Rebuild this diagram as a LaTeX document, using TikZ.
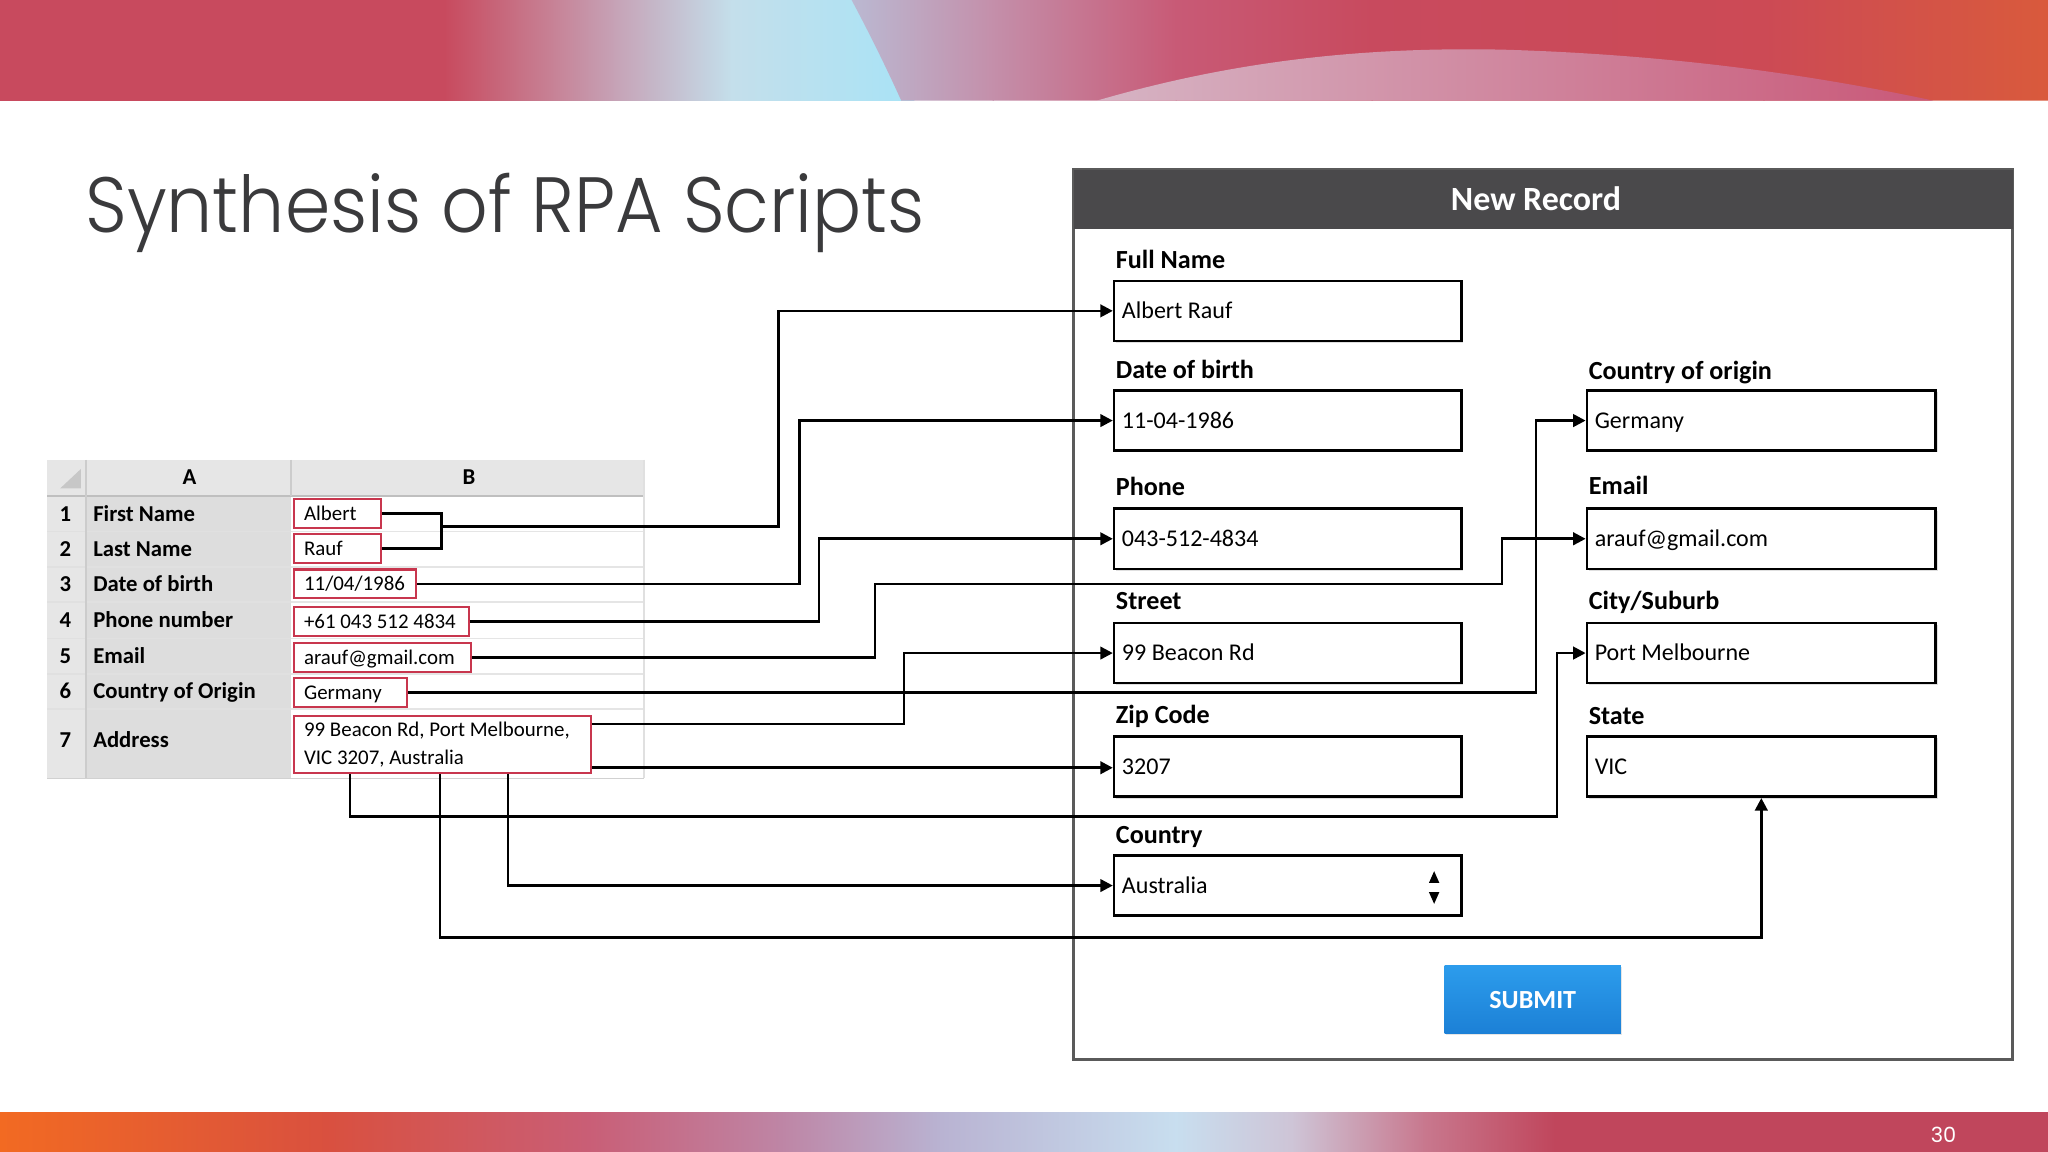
\documentclass[tikz,border=0pt]{standalone}
\usepackage{fontspec}
\setmainfont{Carlito}
\newfontfamily\titlefont[FakeStretch=0.93]{Poppins Light}
\newfontfamily\numfont{Poppins}
\usetikzlibrary{arrows.meta,shadows,calc}
\newcommand\tightsp{\spaceskip=0pt\relax}
\definecolor{cellred}{HTML}{C8364E}
\definecolor{titlegray}{HTML}{3A3A3C}
\definecolor{formhead}{HTML}{4A494B}
\definecolor{formline}{HTML}{5A5A5A}
\definecolor{ssgray}{HTML}{DDDDDD}
\definecolor{sshead}{HTML}{E6E6E6}
\begin{document}
\begin{tikzpicture}[x=0.5pt,y=-0.5pt,
  conn/.style={line width=1pt,-{Triangle[length=4.8pt,width=4.8pt]}},
  wire/.style={line width=1pt},
  cellbox/.style={draw=cellred,line width=0.8pt,fill=white,anchor=west,inner xsep=4pt,inner ysep=0pt,minimum height=11pt,align=left,font=\fontsize{8}{10.5}\selectfont,execute at begin node=\tightsp},
  cellone/.style={cellbox,text height=5.2pt,text depth=0pt},
  field/.style={draw,line width=1pt,fill=white,minimum height=23pt,inner xsep=3pt,inner ysep=0pt,align=left,text height=5.9pt,text depth=0pt,font=\fontsize{9.2}{11}\selectfont,execute at begin node=\tightsp,drop shadow={shadow xshift=0.7pt,shadow yshift=-0.7pt,opacity=0.25}},
  flabel/.style={anchor=base west,inner sep=0pt,font=\bfseries\fontsize{10}{12}\selectfont},
  sslabel/.style={anchor=base west,inner sep=0pt,font=\bfseries\fontsize{8.7}{10}\selectfont},
  ssnum/.style={anchor=base,inner sep=0pt,font=\bfseries\fontsize{8.7}{10}\selectfont}]
\useasboundingbox (0,0) rectangle (1568,882);
\fill[white] (0,0) rectangle (1568,882);
% ---------- top banner ----------
\shade[left color={rgb,255:red,200;green,74;blue,94},right color={rgb,255:red,200;green,74;blue,94}] (0,0) rectangle (341,77);
\shade[left color={rgb,255:red,200;green,74;blue,94},right color={rgb,255:red,198;green,162;blue,182}] (340,0) rectangle (471,77);
\shade[left color={rgb,255:red,198;green,162;blue,182},right color={rgb,255:red,196;green,223;blue,235}] (470,0) rectangle (561,77);
\shade[left color={rgb,255:red,196;green,223;blue,235},right color={rgb,255:red,168;green,227;blue,246}] (560,0) rectangle (700,77);
\begin{scope}
\clip (652,0) .. controls (668,30) and (680,55) .. (690,77) -- (1568,77) -- (1568,0) -- cycle;
\shade[left color={rgb,255:red,185;green,189;blue,214},right color={rgb,255:red,196;green,143;blue,170}] (640,0) rectangle (761,77);
\shade[left color={rgb,255:red,196;green,143;blue,170},right color={rgb,255:red,200;green,90;blue,118}] (760,0) rectangle (901,77);
\shade[left color={rgb,255:red,200;green,90;blue,118},right color={rgb,255:red,200;green,74;blue,94}] (900,0) rectangle (1051,77);
\shade[left color={rgb,255:red,200;green,74;blue,94},right color={rgb,255:red,204;green,74;blue,85}] (1050,0) rectangle (1351,77);
\shade[left color={rgb,255:red,204;green,74;blue,85},right color={rgb,255:red,217;green,90;blue,60}] (1350,0) rectangle (1568,77);
\end{scope}
\shade[left color={rgb,255:red,214;green,180;blue,196},right color={rgb,255:red,201;green,88;blue,120}] (840,77) .. controls (950,45) and (1050,36) .. (1150,38) .. controls (1290,42) and (1400,60) .. (1480,77) -- cycle;
% ---------- bottom banner ----------
\shade[left color={rgb,255:red,242;green,106;blue,34},right color={rgb,255:red,217;green,80;blue,63}] (0,852) rectangle (251,882);
\shade[left color={rgb,255:red,217;green,80;blue,63},right color={rgb,255:red,201;green,94;blue,118}] (250,852) rectangle (451,882);
\shade[left color={rgb,255:red,201;green,94;blue,118},right color={rgb,255:red,190;green,134;blue,166}] (450,852) rectangle (601,882);
\shade[left color={rgb,255:red,190;green,134;blue,166},right color={rgb,255:red,185;green,179;blue,210}] (600,852) rectangle (721,882);
\shade[left color={rgb,255:red,185;green,179;blue,210},right color={rgb,255:red,200;green,222;blue,239}] (720,852) rectangle (901,882);
\shade[left color={rgb,255:red,200;green,222;blue,239},right color={rgb,255:red,206;green,196;blue,214}] (900,852) rectangle (991,882);
\shade[left color={rgb,255:red,206;green,196;blue,214},right color={rgb,255:red,200;green,120;blue,142}] (990,852) rectangle (1091,882);
\shade[left color={rgb,255:red,200;green,120;blue,142},right color={rgb,255:red,192;green,70;blue,92}] (1090,852) rectangle (1191,882);
\shade[left color={rgb,255:red,192;green,70;blue,92},right color={rgb,255:red,192;green,70;blue,92}] (1190,852) rectangle (1568,882);
\node[text=white,font=\numfont\fontsize{8}{9}\selectfont,inner sep=0pt] (pagenum) at (1488,869) {30};
% ---------- title ----------
\node[anchor=base west,inner sep=0pt,text=titlegray,font=\titlefont\fontsize{30}{36}\selectfont] (title) at (65,178) {Synthesis of RPA Scripts};
% ---------- spreadsheet ----------
\fill[sshead] (36,352) rectangle (493,380);
\fill[sshead] (36,380) rectangle (66,596);
\fill[ssgray] (66,380) rectangle (223,596);
\fill[black!22] (46,374) -- (62,374) -- (62,359) -- cycle;
\foreach \yy in {407,434,461,489,516,543} {
  \draw[black!12,line width=0.6pt] (36,\yy) -- (223,\yy);
  \draw[black!10,line width=0.6pt] (223,\yy) -- (493,\yy);
}
\draw[black!25,line width=0.8pt] (36,380) -- (493,380);
\draw[black!18,line width=0.6pt] (36,596) -- (493,596);
\draw[black!20,line width=0.6pt] (66,352) -- (66,596);
\draw[black!20,line width=0.6pt] (223,352) -- (223,380);
\draw[black!12,line width=0.6pt] (493,352) -- (493,596);
\node[ssnum] (hA) at (145,371) {A};
\node[ssnum] (hB) at (359,371) {B};
\node[ssnum] (n1) at (50,399) {1};
\node[ssnum] (n2) at (50,426) {2};
\node[ssnum] (n3) at (50,453) {3};
\node[ssnum] (n4) at (50,480.5) {4};
\node[ssnum] (n5) at (50,508) {5};
\node[ssnum] (n6) at (50,535) {6};
\node[ssnum] (n7) at (50,572) {7};
\node[sslabel] (l1) at (71,399) {First Name};
\node[sslabel] (l2) at (71,426) {Last Name};
\node[sslabel] (l3) at (71,453) {Date of birth};
\node[sslabel] (l4) at (71,480.5) {Phone number};
\node[sslabel] (l5) at (71,508) {Email};
\node[sslabel] (l6) at (71,535) {Country of Origin};
\node[sslabel] (l7) at (71,572) {Address};
% ---------- form ----------
\draw[formline,line width=1pt,fill=white] (822,130) rectangle (1541,811);
\fill[formhead] (822,130) rectangle (1541,175);
\node[text=white,font=\bfseries\fontsize{13}{15}\selectfont] (newrec) at (1176,152) {New Record};
\node[flabel] (lfn) at (854,205.5) {Full Name};
\node[flabel] (ldob) at (854,289.5) {Date of birth};
\node[flabel] (lph) at (854,379) {Phone};
\node[flabel] (lst) at (854,466.5) {Street};
\node[flabel] (lzip) at (854,554) {Zip Code};
\node[flabel] (lctry) at (854,645.5) {Country};
\node[flabel] (lcoo) at (1216,290.5) {Country of origin};
\node[flabel] (lem) at (1216,378.5) {Email};
\node[flabel] (lcity) at (1216,466.5) {City/Suburb};
\node[flabel] (lstate) at (1216,554.5) {State};
\node[field,text width=127pt] (fn) at (986,238) {Albert Rauf};
\node[field,text width=127pt] (dob) at (986,322) {11-04-1986};
\node[field,text width=127pt] (ph) at (986,412.5) {043-512-4834};
\node[field,text width=127pt] (st) at (986,500) {99 Beacon Rd};
\node[field,text width=127pt] (zip) at (986,587) {3207};
\node[field,text width=127pt] (ctry) at (986,678) {Australia};
\node[field,text width=127.5pt] (coo) at (1348.5,322) {Germany};
\node[field,text width=127.5pt] (em) at (1348.5,412.5) {arauf@gmail.com};
\node[field,text width=127.5pt] (city) at (1348.5,500) {Port Melbourne};
\node[field,text width=127.5pt] (state) at (1348.5,587) {VIC};
\fill (1094,676) -- (1102,676) -- (1098,667) -- cycle;
\fill (1094,683) -- (1102,683) -- (1098,692) -- cycle;
\node[top color={rgb,255:red,44;green,156;blue,236},bottom color={rgb,255:red,28;green,128;blue,214},minimum width=67.5pt,minimum height=26pt,text=white,font=\bfseries\fontsize{10}{12}\selectfont,drop shadow={shadow xshift=0.6pt,shadow yshift=-0.6pt,opacity=0.2}] (submit) at (1173.5,765.5) {SUBMIT};
% ---------- highlighted cells ----------
\node[cellone,text width=25.5pt] (c1) at (224,393) {Albert};
\node[cellone,text width=25.5pt] (c2) at (224,420) {Rauf};
\node[cellone,text width=39pt] (c3) at (224,447) {11/04/1986};
\node[cellone,text width=59pt] (c4) at (224,476) {\mbox{+61 043 512 4834}};
\node[cellone,text width=60pt] (c5) at (224,503.5) {\mbox{arauf@gmail.com}};
\node[cellone,text width=35.5pt] (c6) at (224,530) {Germany};
\node[cellbox,text width=106pt,minimum height=22pt] (c7) at (224,570) {99 Beacon Rd, Port Melbourne,\\VIC 3207, Australia};
% ---------- connectors ----------
\coordinate (jn) at (338,403);
\coordinate (k1) at (596,0);
\coordinate (k2) at (612,0);
\coordinate (k3) at (627,0);
\coordinate (k4) at (670,447);
\coordinate (k4b) at (1150,0);
\coordinate (k5) at (1176,0);
\coordinate (k6) at (692,0);
\coordinate (h8) at (0,625);
\coordinate (k8) at (1192,0);
\coordinate (h10) at (0,718);
\coordinate (s7) at ($(c7.north east)+(0,7)$);
\coordinate (z7) at ($(c7.south east)+(0,-5)$);
\coordinate (a1) at ($(c7.south west)+(44,0)$);
\coordinate (a2) at ($(c7.south west)+(113,0)$);
\coordinate (a3) at ($(c7.south west)+(165,0)$);
\draw[wire] (c1.east) -| (jn |- c2.east) -- (c2.east);
\draw[conn] (jn) -| (k1 |- fn.west) -- (fn.west);
\draw[conn] (c3.east) -| (k2 |- dob.west) -- (dob.west);
\draw[conn] (c4.east) -| (k3 |- ph.west) -- (ph.west);
\draw[conn] (c5.east) -| (k4) -| (k4b |- em.west) -- (em.west);
\draw[conn] (c6.east) -| (k5 |- coo.west) -- (coo.west);
\draw[conn] (s7) -| (k6 |- st.west) -- (st.west);
\draw[conn] (z7) -- (z7 -| zip.west);
\draw[conn] (a1) -- (a1 |- h8) -| (k8 |- city.west) -- (city.west);
\draw[conn] (a3) |- (ctry.west);
\draw[conn] (a2) -- (a2 |- h10) -| (state.south);
\end{tikzpicture}
\end{document}
